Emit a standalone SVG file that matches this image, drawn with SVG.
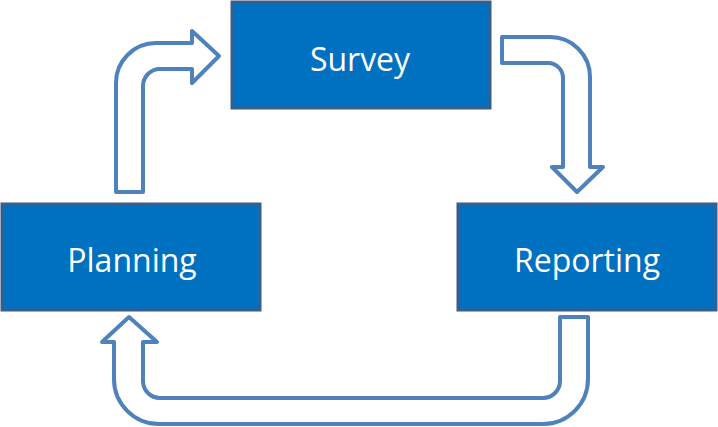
<svg xmlns="http://www.w3.org/2000/svg" width="718" height="427" viewBox="0 0 718 427">
<style>
.box{fill:#0070c0;stroke:#3a5e8c;stroke-width:3}
.lbl{fill:#ffffff;font-family:"Open Sans","Liberation Sans",sans-serif;font-size:32px;text-anchor:middle}
.arr{fill:#ffffff;stroke:#4f81bd;stroke-width:4;stroke-linejoin:round}
</style>
<rect width="718" height="427" fill="#ffffff"/>
<g id="connectors">
<path class="arr" d="M116,192 L116,83 A40,40 0 0 1 156,43 L192,43 L192,31 L219,56 L192,83 L192,69 L160,69 A17,17 0 0 0 143,86 L143,192 Z"/>
<path class="arr" d="M502,37 L550,37 A40,40 0 0 1 590,77 L590,167 L603,167 L577,192 L552,167 L563,167 L563,78 A15,15 0 0 0 548,63 L502,63 Z"/>
<path class="arr" d="M588,317 L588,379 A45,45 0 0 1 543,424 L159,424 A45,45 0 0 1 114,379 L114,342 L102,342 L129,317 L157,342 L143,342 L143,381 A17,17 0 0 0 160,398 L543,398 A17,17 0 0 0 560,381 L560,317 Z"/>
</g>
<g id="survey">
<rect class="box" x="232" y="2" width="258" height="106"/>
<text class="lbl" x="360" y="71">Survey</text>
</g>
<g id="planning">
<rect class="box" x="2" y="204" width="258" height="106"/>
<text class="lbl" x="132" y="272">Planning</text>
</g>
<g id="reporting">
<rect class="box" x="458" y="204" width="258" height="106"/>
<text class="lbl" x="587" y="272">Reporting</text>
</g>
</svg>
